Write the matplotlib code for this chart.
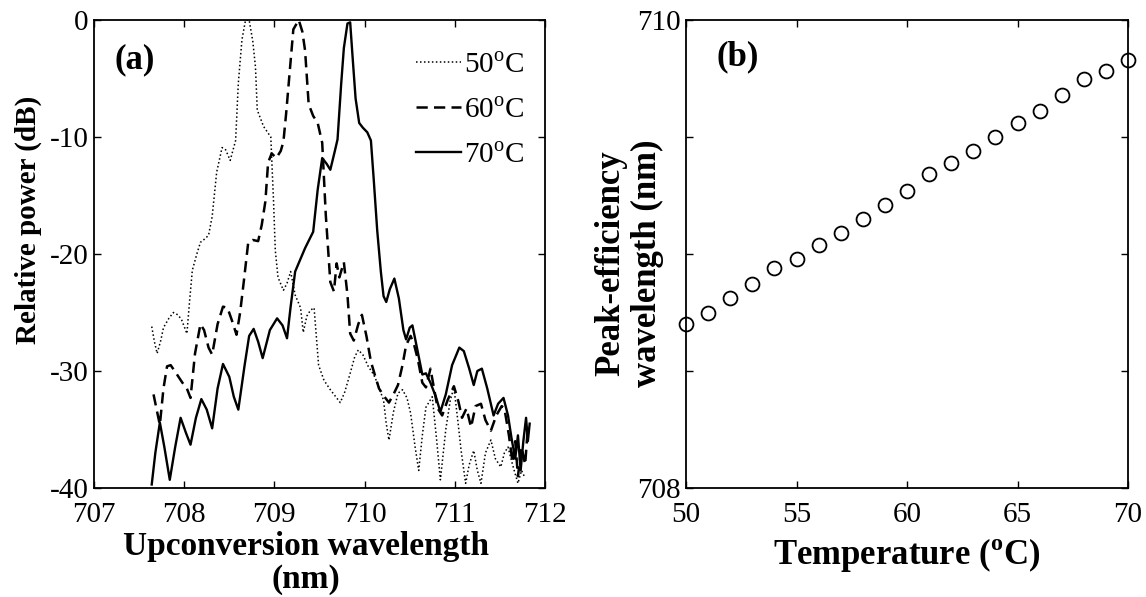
import numpy as np
import matplotlib
matplotlib.use('Agg')
from matplotlib import pyplot as plt

plt.rcParams['font.family'] = 'Liberation Serif'
plt.rcParams['mathtext.fontset'] = 'custom'
plt.rcParams['mathtext.rm'] = 'Liberation Serif'
plt.rcParams['mathtext.bf'] = 'Liberation Serif:bold'
plt.rcParams['axes.unicode_minus'] = False

# panel (a): spectra at three temperatures
wl_50 = [707.64, 707.67, 707.70, 707.74, 707.77, 707.83, 707.88, 707.93, 707.97, 708.00,
         708.03, 708.06, 708.09, 708.14, 708.18, 708.23, 708.27, 708.31, 708.36, 708.42,
         708.46, 708.51, 708.57, 708.60, 708.64, 708.68, 708.72, 708.76, 708.79, 708.81,
         708.88, 708.96, 708.99, 709.01, 709.04, 709.10, 709.14, 709.18, 709.23, 709.29,
         709.32, 709.36, 709.40, 709.44, 709.49, 709.55, 709.62, 709.68, 709.73, 709.78,
         709.84, 709.89, 709.93, 709.98, 710.04, 710.10, 710.14, 710.21, 710.24, 710.27,
         710.32, 710.37, 710.42, 710.47, 710.51, 710.56, 710.60, 710.64, 710.68, 710.75,
         710.80, 710.84, 710.90, 710.95, 710.99, 711.03, 711.07, 711.12, 711.16, 711.21,
         711.25, 711.29, 711.34, 711.40, 711.45, 711.51, 711.55, 711.59, 711.64, 711.70,
         711.74, 711.77]
db_50 = [-26.2, -27.5, -28.5, -27.4, -26.3, -25.5, -25.0, -25.2, -25.6, -26.2,
         -26.8, -24.0, -21.4, -20.0, -19.0, -18.7, -18.4, -16.8, -13.0, -10.9,
         -11.1, -12.0, -10.3, -5.4, -1.7, 0.0, 0.0, -1.8, -4.0, -7.7,
         -9.1, -10.0, -15.4, -19.7, -22.0, -23.1, -22.5, -21.5, -23.5, -24.6,
         -26.7, -25.3, -24.8, -24.6, -29.5, -30.8, -31.6, -32.2, -32.7, -31.8,
         -30.2, -28.8, -28.2, -28.6, -29.6, -30.3, -31.0, -32.5, -34.5, -35.9,
         -33.5, -31.9, -31.6, -32.3, -33.6, -36.5, -38.5, -35.5, -33.1, -32.2,
         -36.0, -39.3, -35.0, -32.5, -31.4, -34.0, -36.8, -39.6, -38.0, -36.8,
         -38.5, -39.6, -37.0, -35.9, -37.5, -38.2, -37.0, -36.5, -38.0, -39.6,
         -38.5, -39.0]

wl_60 = [707.66, 707.70, 707.73, 707.77, 707.81, 707.85, 707.92, 707.98, 708.03, 708.07,
         708.12, 708.18, 708.22, 708.27, 708.31, 708.37, 708.43, 708.48, 708.53, 708.58,
         708.62, 708.66, 708.71, 708.76, 708.82, 708.86, 708.90, 708.93, 708.97, 709.02,
         709.07, 709.10, 709.13, 709.16, 709.21, 709.27, 709.31, 709.34, 709.38, 709.43,
         709.48, 709.53, 709.57, 709.62, 709.66, 709.69, 709.72, 709.77, 709.81, 709.84,
         709.88, 709.93, 709.97, 710.02, 710.07, 710.12, 710.16, 710.22, 710.27, 710.32,
         710.37, 710.42, 710.46, 710.51, 710.55, 710.59, 710.64, 710.68, 710.73, 710.77,
         710.81, 710.86, 710.92, 710.99, 711.04, 711.08, 711.13, 711.18, 711.23, 711.29,
         711.34, 711.40, 711.46, 711.52, 711.55, 711.60, 711.64, 711.67, 711.70, 711.74,
         711.78, 711.81]
db_60 = [-32.0, -33.5, -34.6, -31.5, -29.6, -29.5, -30.3, -31.0, -31.5, -32.3,
         -28.5, -26.0, -26.5, -28.0, -28.6, -26.0, -24.5, -24.6, -25.7, -26.9,
         -25.0, -22.4, -19.0, -18.8, -18.9, -17.5, -15.5, -12.2, -11.4, -11.8,
         -11.2, -10.4, -8.0, -5.3, -0.8, 0.0, -1.0, -2.6, -7.2, -8.2,
         -8.8, -10.5, -16.7, -22.4, -23.2, -20.8, -22.0, -20.7, -23.5, -26.8,
         -27.4, -26.0, -25.2, -27.0, -29.2, -30.5, -31.5, -32.2, -32.7, -32.0,
         -31.2, -29.5, -27.8, -27.0, -27.8, -29.0, -31.0, -31.4, -29.8, -31.5,
         -33.2, -33.8, -32.5, -31.3, -32.6, -34.0, -33.2, -34.8, -33.0, -32.8,
         -34.2, -35.1, -33.8, -33.0, -33.2, -35.5, -37.8, -36.0, -39.0, -36.5,
         -38.0, -34.8]

wl_70 = [707.64, 707.68, 707.73, 707.78, 707.84, 707.90, 707.96, 708.02, 708.07, 708.13,
         708.19, 708.25, 708.31, 708.37, 708.43, 708.50, 708.55, 708.60, 708.67, 708.72,
         708.77, 708.82, 708.87, 708.95, 709.03, 709.09, 709.14, 709.18, 709.23, 709.34,
         709.43, 709.48, 709.53, 709.58, 709.62, 709.67, 709.70, 709.74, 709.77, 709.81,
         709.84, 709.87, 709.90, 709.94, 709.98, 710.03, 710.07, 710.10, 710.14, 710.18,
         710.21, 710.24, 710.28, 710.33, 710.38, 710.43, 710.46, 710.50, 710.53, 710.58,
         710.64, 710.68, 710.73, 710.79, 710.84, 710.90, 710.97, 711.05, 711.10, 711.16,
         711.21, 711.25, 711.30, 711.36, 711.43, 711.48, 711.54, 711.59, 711.63, 711.67,
         711.70, 711.73, 711.76, 711.79, 711.81, 711.83]
db_70 = [-39.7, -37.0, -34.4, -36.5, -39.3, -36.5, -34.0, -35.3, -36.3, -34.0,
         -32.4, -33.3, -34.9, -31.5, -29.4, -30.5, -32.2, -33.3, -29.5, -27.0,
         -26.4, -27.5, -28.9, -26.5, -25.5, -26.1, -27.2, -24.5, -21.5, -19.5,
         -18.1, -14.5, -11.8, -12.3, -12.8, -11.2, -10.2, -5.5, -2.4, -0.3,
         -0.2, -3.5, -6.7, -8.8, -9.2, -9.6, -10.3, -13.5, -18.0, -21.5,
         -23.6, -24.1, -23.0, -22.1, -23.8, -26.5, -27.3, -26.3, -26.1, -28.0,
         -30.3, -30.2, -31.0, -32.2, -33.5, -32.0, -29.5, -28.0, -28.3, -29.8,
         -31.2, -30.0, -29.8, -31.5, -33.8, -32.8, -32.3, -33.8, -35.8, -37.5,
         -35.5, -38.5, -36.0, -34.0, -36.0, -34.5]

# panel (b): peak-efficiency wavelength vs temperature
temps = list(range(50, 71))
peak_wl = [708.70, 708.75, 708.81, 708.87, 708.94, 708.98, 709.04, 709.09, 709.15, 709.21,
           709.27, 709.34, 709.39, 709.44, 709.50, 709.56, 709.61, 709.68, 709.75, 709.78,
           709.83]

W, H = 1146, 597
fig = plt.figure(figsize=(W / 100, H / 100), dpi=100)
ax1 = fig.add_axes([94 / W, 1 - 488 / H, 451 / W, 468 / H])
ax2 = fig.add_axes([686 / W, 1 - 488 / H, 442 / W, 468 / H])

tick_font = 21

ax1.plot(wl_50, db_50, color='black', ls=(0, (1, 1.6)), lw=1.1, label='50$^{\\rm o}$C')
ax1.plot(wl_60, db_60, color='black', ls=(0, (4.5, 2.5)), lw=1.8, label='60$^{\\rm o}$C')
ax1.plot(wl_70, db_70, color='black', ls='-', lw=1.7, label='70$^{\\rm o}$C')
ax1.set_xlim(707, 712)
ax1.set_ylim(-40, 0)
ax1.set_xticks([707, 708, 709, 710, 711, 712])
ax1.set_yticks([-40, -30, -20, -10, 0])
ax1.set_xlabel('Upconversion wavelength\n(nm)', fontsize=24, fontweight='bold',
               linespacing=1.1, labelpad=2)
ax1.xaxis.label.set_x(0.47)
ax1.set_ylabel('Relative power (dB)', fontsize=21, fontweight='bold')
ax1.yaxis.set_label_coords(-0.115, 0.573)
ax1.text(0.045, 0.915, '(a)', transform=ax1.transAxes, fontsize=25, fontweight='bold',
         va='center', ha='left')
ax1.legend(loc='upper right', bbox_to_anchor=(1.0, 0.975), frameon=False,
           fontsize=tick_font, handlelength=1.55, handletextpad=0.1,
           labelspacing=0.64, borderaxespad=0.3)

ax2.plot(temps, peak_wl, 'o', mfc='none', mec='black', ms=10, mew=1.3, clip_on=False)
ax2.set_xlim(50, 70)
ax2.set_ylim(708, 710)
ax2.set_xticks([50, 55, 60, 65, 70])
ax2.set_yticks([708, 708.5, 709, 709.5, 710])
ax2.set_yticklabels(['708', '', '', '', '710'])
ax2.set_xlabel('Temperature ($^{\\mathbf{o}}$C)', fontsize=25, fontweight='bold',
               labelpad=6)
ax2.set_ylabel('Peak-efficiency\nwavelength (nm)', fontsize=25, fontweight='bold',
               linespacing=1.15)
ax2.yaxis.set_label_coords(-0.05, 0.48)
ax2.text(0.07, 0.921, '(b)', transform=ax2.transAxes, fontsize=25, fontweight='bold',
         va='center', ha='left')

for ax in (ax1, ax2):
    ax.tick_params(direction='in', top=True, right=True, length=5, width=1,
                   labelsize=tick_font, pad=4)
    ax.tick_params(axis='x', pad=10)
    for s in ax.spines.values():
        s.set_linewidth(1.3)

fig.savefig('out.png', dpi=100)
